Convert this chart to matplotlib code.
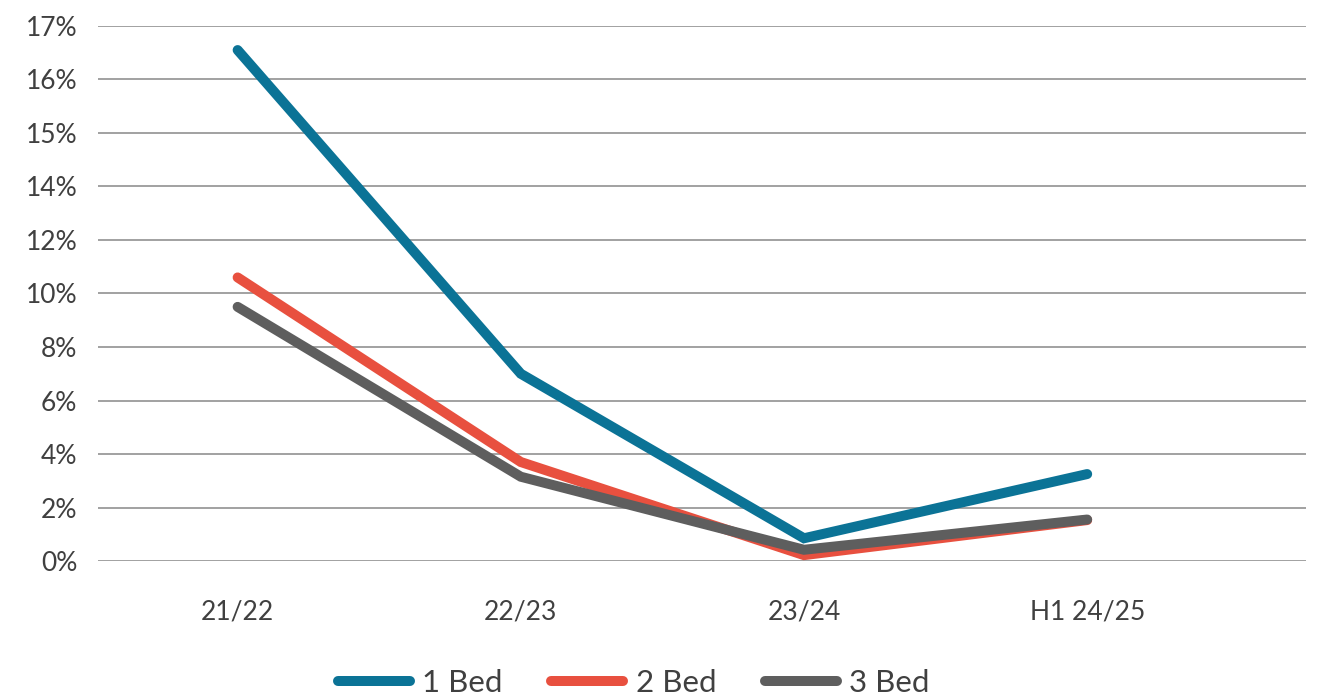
import matplotlib.pyplot as plt
import numpy as np

plt.rcParams["font.family"] = ["Lato", "DejaVu Sans"]

# 데이터
periods = ["21/22", "22/23", "23/24", "H1 24/25"]
bed1 = [19.1, 7.0, 0.85, 3.25]
bed2 = [10.6, 3.7, 0.22, 1.53]
bed3 = [9.5, 3.15, 0.42, 1.55]
series_names = ["1 Bed", "2 Bed", "3 Bed"]
colors = ["#0b7396", "#e8503f", "#5e5e5e"]

# 원본 차트의 y축 라벨 그대로 (위쪽 라벨이 불규칙함)
yTicks = [0, 2, 4, 6, 8, 10, 12, 14, 16, 18, 20]
yLabels = ["0%", "2%", "4%", "6%", "8%", "10%", "12%", "14%", "15%", "16%", "17%"]

xData = np.arange(len(periods))

fig = plt.figure(figsize=(13.23, 6.95), dpi=100)
ax = fig.add_axes([0.0741, 0.1928, 0.9131, 0.7698])

for vals, name, c in zip([bed1, bed2, bed3], series_names, colors):
    ax.plot(xData, vals, color=c, linewidth=7.2, label=name,
            solid_capstyle="round", solid_joinstyle="miter")

ax.set_xlim(-0.493, 3.773)
ax.set_ylim(0, 20)
ax.set_yticks(yTicks)
ax.set_yticklabels(yLabels)
ax.set_xticks(xData)
ax.set_xticklabels(periods)
ax.yaxis.grid(True, color="#9a9a9a", linewidth=1.3)
ax.set_axisbelow(True)
for s in ax.spines.values():
    s.set_visible(False)
ax.tick_params(axis="both", length=0, labelsize=19, labelcolor="#404040")
ax.tick_params(axis="x", pad=28)
ax.tick_params(axis="y", pad=15)

fig.legend(loc="center", bbox_to_anchor=(0.479, 0.017), ncol=3, frameon=False,
           fontsize=22.5, handlelength=2.3, handletextpad=0.4, columnspacing=1.55,
           labelcolor="#404040")

fig.savefig("out.png", dpi=100)
